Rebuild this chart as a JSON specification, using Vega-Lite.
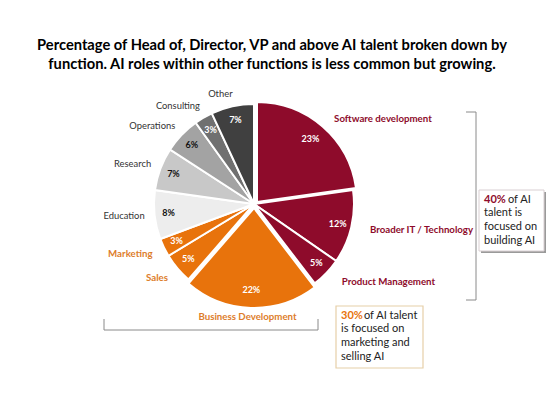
{
  "$schema": "https://vega.github.io/schema/vega-lite/v6.json",
  "width": 508,
  "height": 216,
  "autosize": {"type": "none"},
  "padding": {"left": 0, "right": 46, "top": 96, "bottom": 86},
  "background": "white",
  "config": {"view": {"stroke": null}},
  "title": {
    "text": ["Percentage of Head of, Director, VP and above AI talent broken down by", "function. AI roles within other functions is less common but growing."],
    "font": "Lato",
    "fontSize": 14.7,
    "fontWeight": "bold",
    "color": "#000000",
    "anchor": "middle",
    "dx": 18,
    "offset": 17,
    "lineHeight": 19
  },
  "data": {
    "values": [
      {"name": "Software development", "pct": 23, "group": "build", "rank": 1},
      {"name": "Broader IT / Technology", "pct": 12, "group": "build", "rank": 2},
      {"name": "Product Management", "pct": 5, "group": "build", "rank": 3},
      {"name": "Business Development", "pct": 22, "group": "sell", "rank": 4},
      {"name": "Sales", "pct": 5, "group": "sell", "rank": 5},
      {"name": "Marketing", "pct": 3, "group": "sell", "rank": 6},
      {"name": "Education", "pct": 8, "group": "other", "rank": 7},
      {"name": "Research", "pct": 7, "group": "other", "rank": 8},
      {"name": "Operations", "pct": 6, "group": "other", "rank": 9},
      {"name": "Consulting", "pct": 3, "group": "other", "rank": 10},
      {"name": "Other", "pct": 7, "group": "other", "rank": 11}
    ]
  },
  "transform": [
    {"stack": "pct", "groupby": [], "sort": [{"field": "rank", "order": "ascending"}], "as": ["t0", "t1"]},
    {"calculate": "(datum.t0 + datum.t1) / 2", "as": "tm"},
    {"calculate": "datum.pct + '%'", "as": "label"}
  ],
  "layer": [
    {
      "transform": [{"filter": {"not": {"field": "name", "oneOf": ["Software development", "Business Development"]}}}],
      "mark": {"type": "arc", "outerRadius": 100, "stroke": "white", "strokeWidth": 2},
      "encoding": {
        "theta": {"field": "t0", "type": "quantitative", "scale": {"domain": [0, 101], "nice": false, "zero": true}},
        "theta2": {"field": "t1"},
        "fill": {
          "field": "name", "type": "nominal", "legend": null,
          "scale": {
            "domain": ["Software development", "Broader IT / Technology", "Product Management", "Business Development", "Sales", "Marketing", "Education", "Research", "Operations", "Consulting", "Other"],
            "range": ["#8e0b2b", "#8e0b2b", "#8e0b2b", "#e8730c", "#e8730c", "#e8730c", "#ededed", "#c8c8c8", "#a3a3a3", "#707070", "#404040"]
          }
        }
      }
    },
    {
      "transform": [{"filter": {"field": "name", "equal": "Software development"}}],
      "mark": {"type": "arc", "outerRadius": 100, "stroke": "white", "strokeWidth": 2, "xOffset": 3, "yOffset": -2},
      "encoding": {
        "theta": {"field": "t0", "type": "quantitative", "scale": {"domain": [0, 101], "nice": false, "zero": true}},
        "theta2": {"field": "t1"},
        "fill": {"field": "name", "type": "nominal", "legend": null}
      }
    },
    {
      "transform": [{"filter": {"field": "name", "equal": "Business Development"}}],
      "mark": {"type": "arc", "outerRadius": 100, "stroke": "white", "strokeWidth": 2, "yOffset": 4},
      "encoding": {
        "theta": {"field": "t0", "type": "quantitative", "scale": {"domain": [0, 101], "nice": false, "zero": true}},
        "theta2": {"field": "t1"},
        "fill": {"field": "name", "type": "nominal", "legend": null}
      }
    },
    {
      "mark": {"type": "text", "radius": 86, "font": "Lato", "fontSize": 9, "fontWeight": "bold", "align": "center", "baseline": "middle"},
      "encoding": {
        "theta": {"field": "tm", "type": "quantitative", "scale": {"domain": [0, 101], "nice": false, "zero": true}},
        "text": {"field": "label"},
        "color": {
          "condition": {"test": "indexof(['Education','Research','Operations'], datum.name) >= 0", "value": "#111111"},
          "value": "#ffffff"
        }
      }
    },
    {
      "transform": [{"filter": {"field": "group", "equal": "build"}}],
      "mark": {"type": "text", "radius": 113, "font": "Lato", "fontSize": 9.7, "fontWeight": "bold", "align": "left", "baseline": "middle", "color": "#8e0b2b", "dx": 6},
      "encoding": {
        "theta": {"field": "tm", "type": "quantitative", "scale": {"domain": [0, 101], "nice": false, "zero": true}},
        "text": {"field": "name"}
      }
    },
    {
      "transform": [{"filter": {"field": "name", "equal": "Business Development"}}],
      "mark": {"type": "text", "radius": 113, "font": "Lato", "fontSize": 9.7, "fontWeight": "bold", "align": "center", "baseline": "middle", "color": "#dd7d2c", "dx": -3},
      "encoding": {
        "theta": {"field": "tm", "type": "quantitative", "scale": {"domain": [0, 101], "nice": false, "zero": true}},
        "text": {"field": "name"}
      }
    },
    {
      "transform": [{"filter": {"field": "name", "oneOf": ["Sales", "Marketing"]}}],
      "mark": {"type": "text", "radius": 115, "font": "Lato", "fontSize": 9.7, "fontWeight": "bold", "align": "right", "baseline": "middle", "color": "#dd7d2c", "dx": 2},
      "encoding": {
        "theta": {"field": "tm", "type": "quantitative", "scale": {"domain": [0, 101], "nice": false, "zero": true}},
        "text": {"field": "name"}
      }
    },
    {
      "transform": [{"filter": {"field": "group", "equal": "other"}}],
      "mark": {"type": "text", "radius": 113, "font": "Lato", "fontSize": 9.4, "align": "right", "baseline": "middle", "color": "#333333", "dx": 3},
      "encoding": {
        "theta": {"field": "tm", "type": "quantitative", "scale": {"domain": [0, 101], "nice": false, "zero": true}},
        "text": {"field": "name"}
      }
    },
    {
      "data": {"values": [{}]},
      "mark": {"type": "rule", "color": "#8a8a8a", "strokeWidth": 1},
      "encoding": {
        "x": {"datum": 476, "type": "quantitative", "axis": null, "scale": {"domain": [0, 508], "range": [0, 508], "nice": false, "zero": false}},
        "y": {"datum": 112, "type": "quantitative", "axis": null, "scale": {"domain": [96, 312], "range": [0, 216], "nice": false, "zero": false}},
        "y2": {"datum": 300}
      }
    },
    {
      "data": {"values": [{}]},
      "mark": {"type": "rule", "color": "#8a8a8a", "strokeWidth": 1},
      "encoding": {
        "x": {"datum": 466, "type": "quantitative"},
        "x2": {"datum": 476},
        "y": {"datum": 112, "type": "quantitative"}
      }
    },
    {
      "data": {"values": [{}]},
      "mark": {"type": "rule", "color": "#8a8a8a", "strokeWidth": 1},
      "encoding": {
        "x": {"datum": 466, "type": "quantitative"},
        "x2": {"datum": 476},
        "y": {"datum": 300, "type": "quantitative"}
      }
    },
    {
      "data": {"values": [{}]},
      "mark": {"type": "rule", "color": "#8a8a8a", "strokeWidth": 1},
      "encoding": {
        "x": {"datum": 104, "type": "quantitative"},
        "x2": {"datum": 318},
        "y": {"datum": 330, "type": "quantitative"}
      }
    },
    {
      "data": {"values": [{}]},
      "mark": {"type": "rule", "color": "#8a8a8a", "strokeWidth": 1},
      "encoding": {
        "x": {"datum": 104, "type": "quantitative"},
        "y": {"datum": 319, "type": "quantitative"},
        "y2": {"datum": 330}
      }
    },
    {
      "data": {"values": [{}]},
      "mark": {"type": "rule", "color": "#8a8a8a", "strokeWidth": 1},
      "encoding": {
        "x": {"datum": 318, "type": "quantitative"},
        "y": {"datum": 319, "type": "quantitative"},
        "y2": {"datum": 330}
      }
    },
    {
      "data": {"values": [{}]},
      "mark": {"type": "rect", "fill": "#9a9a9a"},
      "encoding": {
        "x": {"datum": 481, "type": "quantitative"},
        "x2": {"datum": 546},
        "y": {"datum": 192, "type": "quantitative"},
        "y2": {"datum": 253}
      }
    },
    {
      "data": {"values": [{}]},
      "mark": {"type": "rect", "fill": "#ffffff", "stroke": "#d9cfd2", "strokeWidth": 1},
      "encoding": {
        "x": {"datum": 479, "type": "quantitative"},
        "x2": {"datum": 544},
        "y": {"datum": 190, "type": "quantitative"},
        "y2": {"datum": 251}
      }
    },
    {
      "data": {"values": [{}]},
      "mark": {"type": "rect", "fill": "#ffffff", "stroke": "#e6cfa8", "strokeWidth": 1.2},
      "encoding": {
        "x": {"datum": 336, "type": "quantitative"},
        "x2": {"datum": 423},
        "y": {"datum": 306, "type": "quantitative"},
        "y2": {"datum": 368}
      }
    },
    {
      "data": {"values": [{}]},
      "mark": {"type": "text", "font": "Lato", "fontSize": 11, "fontWeight": "bold", "align": "left", "baseline": "middle", "color": "#8e0b2b"},
      "encoding": {
        "x": {"datum": 484, "type": "quantitative"},
        "y": {"datum": 200, "type": "quantitative"},
        "text": {"value": "40%"}
      }
    },
    {
      "data": {"values": [{}]},
      "mark": {"type": "text", "font": "Lato", "fontSize": 11, "align": "left", "baseline": "middle", "color": "#222222"},
      "encoding": {
        "x": {"datum": 508, "type": "quantitative"},
        "y": {"datum": 200, "type": "quantitative"},
        "text": {"value": "of AI"}
      }
    },
    {
      "data": {"values": [{}]},
      "mark": {"type": "text", "font": "Lato", "fontSize": 11, "align": "left", "baseline": "top", "color": "#222222", "lineHeight": 14},
      "encoding": {
        "x": {"datum": 484, "type": "quantitative"},
        "y": {"datum": 207, "type": "quantitative"},
        "text": {"value": ["talent is", "focused on", "building AI"]}
      }
    },
    {
      "data": {"values": [{}]},
      "mark": {"type": "text", "font": "Lato", "fontSize": 11, "fontWeight": "bold", "align": "left", "baseline": "middle", "color": "#e8730c"},
      "encoding": {
        "x": {"datum": 341, "type": "quantitative"},
        "y": {"datum": 316, "type": "quantitative"},
        "text": {"value": "30%"}
      }
    },
    {
      "data": {"values": [{}]},
      "mark": {"type": "text", "font": "Lato", "fontSize": 11, "align": "left", "baseline": "middle", "color": "#222222"},
      "encoding": {
        "x": {"datum": 364, "type": "quantitative"},
        "y": {"datum": 316, "type": "quantitative"},
        "text": {"value": "of AI talent"}
      }
    },
    {
      "data": {"values": [{}]},
      "mark": {"type": "text", "font": "Lato", "fontSize": 11, "align": "left", "baseline": "top", "color": "#222222", "lineHeight": 14},
      "encoding": {
        "x": {"datum": 341, "type": "quantitative"},
        "y": {"datum": 323, "type": "quantitative"},
        "text": {"value": ["is focused on", "marketing and", "selling AI"]}
      }
    }
  ]
}
